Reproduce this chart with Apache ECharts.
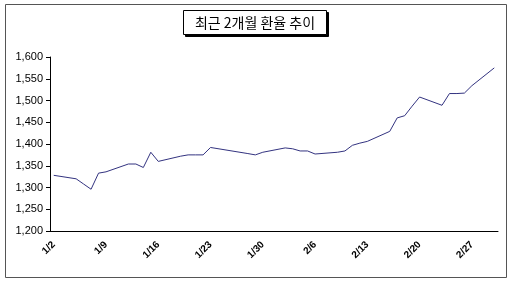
<!DOCTYPE html>
<html>
<head>
<meta charset="utf-8">
<script src="https://cdn.jsdelivr.net/npm/echarts@6/dist/echarts.min.js"></script>
<style>
html,body{margin:0;padding:0;background:#fff;}
#c{width:512px;height:283px;}
</style>
</head>
<body>
<div id="c"></div>
<script>
// Calendar slots shown on the axis (one per day)
var categories = [
  '1/2','1/3','1/4','1/5','1/6','1/7','1/8','1/9','1/10','1/11','1/12','1/13','1/14','1/15','1/16',
  '1/17','1/18','1/19','1/20','1/21','1/22','1/23','1/24','1/25','1/26','1/27','1/28','1/29','1/30','1/31',
  '2/1','2/2','2/3','2/4','2/5','2/6','2/7','2/8','2/9','2/10','2/11','2/12','2/13','2/14','2/15',
  '2/16','2/17','2/18','2/19','2/20','2/21','2/22','2/23','2/24','2/25','2/26','2/27','2/28',
  '3/1','3/2'
];
// Trading days and exchange rates (KRW per USD)
var tradeDays = [
  '1/2','1/5','1/6','1/7','1/8','1/9','1/12','1/13','1/14','1/15','1/16',
  '1/19','1/20','1/21','1/22','1/23','1/28','1/29','1/30',
  '2/2','2/3','2/4','2/5','2/6','2/9','2/10','2/11','2/12','2/13',
  '2/16','2/17','2/18','2/19','2/20','2/23','2/24','2/25','2/26','2/27','3/2'
];
var rates = [
  1328,1320,1308,1296,1333,1336,1354,1354,1346,1381,1360,
  1372,1375,1375,1375,1392,1378,1375,1381,
  1391,1389,1384,1384,1377,1381,1384,1397,1402,1406,
  1429,1460,1465,1487,1508,1489,1516,1516,1517,1534,1575
];
var yTicks = { min: 1200, max: 1600, step: 50 };
var titleText = '최근 2개월 환율 추이';

function fmt(v){ return String(v).replace(/\B(?=(\d{3})+(?!\d))/g, ','); }

var lookup = {};
tradeDays.forEach(function(d, i){ lookup[d] = rates[i]; });
var lastDay = tradeDays[tradeDays.length - 1];
var seriesData = categories.map(function(d){
  if (!(d in lookup)) return null;
  if (d === lastDay) {
    return { value: lookup[d], label: { show: true, position: 'top', distance: 12,
      formatter: function(p){ return fmt(p.value); },
      fontFamily: 'Liberation Sans', fontSize: 11, color: '#000' } };
  }
  return lookup[d];
});

var chart = echarts.init(document.getElementById('c'), null, { renderer: 'canvas' });
chart.setOption({
  animation: false,
  backgroundColor: '#fff',
  grid: { left: 50, right: 14, top: 57, bottom: 52, containLabel: false },
  xAxis: {
    type: 'category',
    data: categories,
    boundaryGap: true,
    axisLine: { lineStyle: { color: '#000', width: 1 } },
    axisTick: { length: 4, interval: function(i){ return i % 7 === 0; }, lineStyle: { color: '#000' } },
    axisLabel: {
      interval: function(i){ return i % 7 === 0; },
      rotate: 45, margin: 12,
      fontFamily: 'Liberation Sans', fontSize: 10, fontWeight: 'bold', color: '#000'
    },
    splitLine: { show: false }
  },
  yAxis: {
    type: 'value',
    min: yTicks.min, max: yTicks.max, interval: yTicks.step,
    axisLine: { show: true, lineStyle: { color: '#000', width: 1 } },
    axisTick: { show: true, length: 4, lineStyle: { color: '#000' } },
    axisLabel: { margin: 7, formatter: fmt, fontFamily: 'Liberation Sans', fontSize: 11, color: '#000' },
    splitLine: { show: false }
  },
  series: [{
    type: 'line',
    data: seriesData,
    connectNulls: true,
    showSymbol: false,
    symbol: 'none',
    lineStyle: { color: '#333380', width: 1 },
    itemStyle: { color: '#333380' }
  }],
  graphic: [
    { type: 'rect', shape: { x: 5.5, y: 4.5, width: 501, height: 273 }, style: { fill: 'none', stroke: '#555', lineWidth: 1 }, z: 100 },
    { type: 'rect', shape: { x: 185.5, y: 12.5, width: 143, height: 24 }, style: { fill: '#000', stroke: '#000' }, z: 100 },
    { type: 'rect', shape: { x: 183.5, y: 10.5, width: 143, height: 24 }, style: { fill: '#fff', stroke: '#000', lineWidth: 1 }, z: 101 },
    { type: 'text', x: 255, y: 22.5, style: { text: titleText, fontFamily: 'Noto Sans CJK KR', fontSize: 14, fill: '#000', align: 'center', verticalAlign: 'middle' }, z: 102 }
  ]
});
</script>
</body>
</html>
